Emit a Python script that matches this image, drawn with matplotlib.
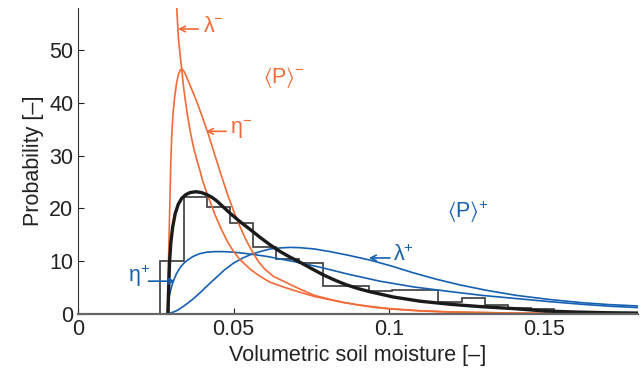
import matplotlib
matplotlib.use('Agg')
import matplotlib.pyplot as plt

plt.rcParams['font.family'] = ['Liberation Sans', 'DejaVu Sans']
plt.rcParams['mathtext.default'] = 'regular'

# histogram of observed soil moisture
bin_edges = [0.0190, 0.0264, 0.0339, 0.0413, 0.0488, 0.0562, 0.0637, 0.0711,
             0.0786, 0.0860, 0.0935, 0.1009, 0.1084, 0.1158, 0.1233, 0.1307,
             0.1382, 0.1456, 0.1531, 0.1605, 0.1680, 0.1754]
bin_heights = [0, 10.0, 22.2, 20.2, 17.3, 12.7, 10.4, 9.6, 5.3, 5.3, 4.4,
               4.45, 4.5, 2.2, 3.0, 1.7, 1.2, 0.9, 0.25, 0.2, 0.1]

# fitted pdf (black)
fit_x = [0.0289, 0.0291, 0.0294, 0.0298, 0.0304, 0.0312, 0.0322, 0.0333, 0.0346,
         0.0360, 0.0378, 0.0396, 0.0414, 0.0430, 0.0446, 0.0466, 0.0488, 0.0520,
         0.0553, 0.0585, 0.0617, 0.0650, 0.0680, 0.0713, 0.0750, 0.0788, 0.0825,
         0.0863, 0.0900, 0.0938, 0.1013, 0.1100, 0.1200, 0.1300, 0.1400, 0.1500,
         0.1600, 0.1700, 0.1800]
fit_y = [0, 5, 10, 13.5, 16.5, 19.0, 20.8, 21.9, 22.6, 23.0, 23.15, 23.0, 22.6,
         22.1, 21.4, 20.3, 19.1, 17.5, 16.0, 14.5, 13.1, 11.8, 10.8, 9.8, 8.6,
         7.4, 6.4, 5.5, 4.8, 4.2, 3.2, 2.4, 1.8, 1.35, 1.0, 0.55, 0.35, 0.22, 0.15]

# orange: dry-state pdfs
lam_m_x = [0.0317, 0.0322, 0.0328, 0.0333, 0.0338, 0.0344, 0.0352, 0.0360, 0.0370,
           0.0380, 0.0390, 0.0400, 0.0412, 0.0424, 0.0440, 0.0460, 0.0480, 0.0500,
           0.0520, 0.0553, 0.0580, 0.0617, 0.0660, 0.0713, 0.0760, 0.0800, 0.0850,
           0.0900, 0.0950, 0.1000, 0.1100, 0.1200, 0.1400, 0.1600, 0.1800]
lam_m_y = [58, 52.5, 49, 46.4, 43.4, 40.7, 37.5, 34.7, 31.8, 29.5, 27.5, 25.3,
           23.2, 21.3, 18.8, 16.1, 13.7, 11.8, 10.3, 8.5, 7.3, 6.0, 5.1, 4.1, 3.3,
           2.8, 2.2, 1.7, 1.25, 0.95, 0.55, 0.35, 0.15, 0.08, 0.04]

eta_m_x = [0.0286, 0.0288, 0.0290, 0.0292, 0.0294, 0.0296, 0.0298, 0.0301, 0.0305,
           0.0310, 0.0316, 0.0322, 0.0328, 0.0334, 0.0340, 0.0348, 0.0360, 0.0381,
           0.0400, 0.0420, 0.0440, 0.0460, 0.0480, 0.0500, 0.0520, 0.0540, 0.0560,
           0.0580, 0.0600, 0.0628, 0.0660, 0.0713, 0.0760, 0.0800, 0.0850, 0.0900,
           0.1000, 0.1100, 0.1200, 0.1400, 0.1600, 0.1800]
eta_m_y = [0, 4, 9, 14, 19, 24, 29, 34, 38, 41, 43.6, 45.3, 46.2, 46.4, 46.0,
           45.0, 43.3, 40.3, 37.2, 33.8, 30.0, 26.3, 22.7, 19.5, 16.6, 14.0,
           11.8, 9.9, 8.5, 7.1, 6.2, 4.7, 3.5, 2.9, 2.2, 1.7, 1.0, 0.6, 0.35,
           0.15, 0.07, 0.03]

# blue: wet-state pdfs
eta_p_x = [0.0285, 0.0287, 0.0290, 0.0293, 0.0297, 0.0302, 0.0308, 0.0316, 0.0326,
           0.0338, 0.0352, 0.0370, 0.0390, 0.0414, 0.0440, 0.0467, 0.0500, 0.0531,
           0.0570, 0.0606, 0.0650, 0.0713, 0.0788, 0.0870, 0.0970, 0.1080, 0.1200,
           0.1300, 0.1410, 0.1520, 0.1624, 0.1710, 0.1800]
eta_p_y = [0, 1.0, 2.2, 3.3, 4.4, 5.5, 6.5, 7.6, 8.6, 9.5, 10.2, 10.9, 11.4,
           11.7, 11.8, 11.8, 11.7, 11.5, 11.2, 10.9, 10.4, 9.7, 8.7, 7.5, 6.2,
           5.1, 4.2, 3.5, 2.9, 2.3, 1.8, 1.45, 1.2]

lam_p_x = [0.0285, 0.0300, 0.0320, 0.0340, 0.0365, 0.0390, 0.0420, 0.0446, 0.0470,
           0.0499, 0.0530, 0.0553, 0.0585, 0.0617, 0.0650, 0.0681, 0.0713, 0.0760,
           0.0810, 0.0870, 0.0938, 0.1000, 0.1077, 0.1150, 0.1227, 0.1310, 0.1410,
           0.1520, 0.1624, 0.1710, 0.1800]
lam_p_y = [0, 0.2, 0.7, 1.5, 2.6, 3.9, 5.6, 7.0, 8.3, 9.6, 10.6, 11.2, 11.8,
           12.3, 12.5, 12.6, 12.55, 12.3, 11.8, 11.1, 10.2, 9.2, 7.8, 6.6, 5.5,
           4.5, 3.5, 2.7, 2.1, 1.75, 1.5]

orange = '#f26a36'
blue = '#1560b2'
fs = 15.5

fig = plt.figure(figsize=(6.41, 3.75), dpi=100)
ax = fig.add_axes([0.122, 0.163, 0.873, 0.816])

ax.stairs(bin_heights, bin_edges, color='#3a3a3a', lw=1.2)
ax.plot(eta_p_x, eta_p_y, color=blue, lw=1.2)
ax.plot(lam_p_x, lam_p_y, color=blue, lw=1.2)
ax.plot(lam_m_x, lam_m_y, color=orange, lw=1.2)
ax.plot(eta_m_x, eta_m_y, color=orange, lw=1.2)
ax.plot(fit_x, fit_y, color='#1a1a1a', lw=2.4)

ax.set_xlim(0, 0.18)
ax.set_ylim(0, 58)
ax.set_xticks([0, 0.05, 0.1, 0.15])
ax.set_xticklabels(['0', '0.05', '0.1', '0.15'])
ax.set_yticks([0, 10, 20, 30, 40, 50])
ax.spines['top'].set_visible(False)
ax.spines['right'].set_visible(False)
ax.spines['bottom'].set_color('#666666')
ax.spines['bottom'].set_linewidth(1.6)
ax.spines['left'].set_color('#333333')
ax.tick_params(direction='in', length=4, labelsize=fs, colors='#222222')
ax.set_xlabel('Volumetric soil moisture [–]', fontsize=fs, color='#222222')
ax.set_ylabel('Probability [–]', fontsize=fs, color='#222222')

# labels with arrows pointing at the curves
arrow = dict(arrowstyle='->', lw=1.2, shrinkA=0, shrinkB=0)
ax.annotate('', xy=(0.0321, 54.0), xytext=(0.0386, 54.0),
            arrowprops=dict(arrow, color=orange))
ax.text(0.0400, 54.5, r'$\lambda^{-}$', color=orange, fontsize=fs, va='center')
ax.annotate('', xy=(0.0411, 34.6), xytext=(0.0476, 34.6),
            arrowprops=dict(arrow, color=orange))
ax.text(0.0487, 35.0, r'$\eta^{-}$', color=orange, fontsize=fs, va='center')
ax.text(0.0594, 44.8, r'$\langle P\rangle^{-}$', color=orange, fontsize=fs, va='center')

ax.annotate('', xy=(0.0935, 10.6), xytext=(0.1003, 10.6),
            arrowprops=dict(arrow, color=blue))
ax.text(0.1013, 11.1, r'$\lambda^{+}$', color=blue, fontsize=fs, va='center')
ax.annotate('', xy=(0.0312, 6.2), xytext=(0.0226, 6.2),
            arrowprops=dict(arrow, color=blue))
ax.text(0.0232, 7.2, r'$\eta^{+}$', color=blue, fontsize=fs, va='center', ha='right')
ax.text(0.1186, 19.4, r'$\langle P\rangle^{+}$', color=blue, fontsize=fs, va='center')

fig.savefig('out.png', dpi=100)
